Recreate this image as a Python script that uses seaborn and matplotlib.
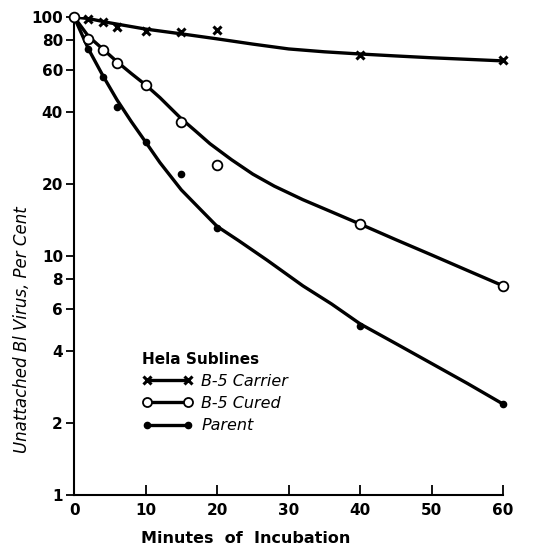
import numpy as np
import matplotlib
matplotlib.use("Agg")
import matplotlib.pyplot as plt
from matplotlib.lines import Line2D
from matplotlib.ticker import FixedLocator, FixedFormatter, NullLocator
import seaborn as sns

# measured points (minutes, % unattached)
carrier_t = [2, 4, 6, 10, 15, 20, 40, 60]
carrier_pct = [98, 95, 91, 87, 86.5, 88, 69.5, 66]
cured_t = [0, 2, 4, 6, 10, 15, 20, 40, 60]
cured_pct = [100, 81, 73, 64, 52, 36.5, 24, 13.6, 7.5]
parent_t = [2, 4, 6, 10, 15, 20, 40, 60]
parent_pct = [73.5, 56, 42, 30, 22, 13.1, 5.1, 2.4]

# fitted curves
carrier_ct = [0, 2, 5, 10, 15, 20, 25, 30, 35, 40, 45, 50, 55, 60]
carrier_curve = [100, 98.5, 94.5, 89, 85, 81, 77, 73.5, 71.5, 70, 68.7, 67.5, 66.5, 65.5]
cured_ct = [0, 2, 4, 6, 8, 10, 12, 15, 17, 19, 22, 25, 28, 32, 36, 40, 45, 50, 55, 60]
cured_curve = [100, 83, 73.5, 65, 58, 52, 46, 37.5, 33.3, 29.5, 25.3, 22, 19.6, 17.2, 15.3,
               13.6, 11.7, 10.1, 8.7, 7.5]
parent_ct = [0, 2, 4, 6, 8, 10, 12, 15, 18, 20, 23, 27, 32, 36, 40, 45, 50, 55, 60]
parent_curve = [100, 73.5, 57, 45, 36.5, 30, 24.6, 18.9, 15.3, 13.3, 11.6, 9.6, 7.5,
                6.3, 5.2, 4.3, 3.55, 2.93, 2.4]

y_ticks = [1, 2, 4, 6, 8, 10, 20, 40, 60, 80, 100]
y_labels = ["1", "2", "4", "6", "8", "10", "20", "40", "60", "80", "100"]
x_ticks = [0, 10, 20, 30, 40, 50, 60]

sns.set_theme(style="ticks")
plt.rcParams["font.family"] = ["DejaVu Sans"]
plt.rcParams.update({"text.color": "black", "axes.labelcolor": "black",
                     "xtick.color": "black", "ytick.color": "black"})

fig = plt.figure(figsize=(5.33, 5.46), dpi=100)
ax = fig.add_axes([0.139, 0.0934, 0.805, 0.8755])

lw = 2.4
for ct, curve in [(carrier_ct, carrier_curve), (cured_ct, cured_curve),
                  (parent_ct, parent_curve)]:
    sns.lineplot(x=ct, y=curve, color="black", linewidth=lw, ax=ax,
                 estimator=None, sort=False)

ax.plot(carrier_t, carrier_pct, linestyle="none", marker="x", color="black",
        markersize=6, markeredgewidth=2.2, clip_on=False, zorder=5)
ax.plot(cured_t, cured_pct, linestyle="none", marker="o", markerfacecolor="white",
        markeredgecolor="black", markersize=7, markeredgewidth=1.3, clip_on=False, zorder=5)
ax.plot(parent_t, parent_pct, linestyle="none", marker="o", color="black",
        markersize=4.5, clip_on=False, zorder=5)

ax.set_yscale("log")
ax.set_xlim(0, 60)
ax.set_ylim(1, 100)
ax.yaxis.set_major_locator(FixedLocator(y_ticks))
ax.yaxis.set_major_formatter(FixedFormatter(y_labels))
ax.yaxis.set_minor_locator(NullLocator())
ax.set_xticks(x_ticks)

ax.tick_params(axis="y", direction="out", length=6, width=1.3, labelsize=11, pad=2)
ax.tick_params(axis="x", direction="in", length=7, width=1.3, labelsize=11, pad=6)
for lab in ax.get_xticklabels() + ax.get_yticklabels():
    lab.set_fontweight("bold")

sns.despine(ax=ax)
for s in ["left", "bottom"]:
    ax.spines[s].set_linewidth(1.5)
    ax.spines[s].set_color("black")

ax.set_xlabel("Minutes  of  Incubation", fontsize=11.5, fontweight="bold")
ax.xaxis.set_label_coords(0.40, -0.075)
ax.set_ylabel("Unattached Bl Virus, Per Cent", fontsize=12, fontstyle="italic")
ax.yaxis.set_label_coords(-0.10, 0.345)

handles = [
    Line2D([], [], color="black", linewidth=lw, marker="x", markersize=6, markeredgewidth=2.2),
    Line2D([], [], color="black", linewidth=lw, marker="o", markerfacecolor="white",
           markersize=6.5, markeredgewidth=1.3),
    Line2D([], [], color="black", linewidth=lw, marker="o", markersize=4.5),
]
leg = ax.legend(handles, ["B-5 Carrier", "B-5 Cured", "Parent"], title="Hela Sublines",
                loc="upper left", bbox_to_anchor=(0.125, 0.33), frameon=False,
                numpoints=2, handlelength=3.2, labelspacing=0.45, handletextpad=0.5,
                prop={"style": "italic", "size": 11.5}, alignment="left")
leg.get_title().set_fontsize(11)
leg.get_title().set_fontweight("bold")

fig.savefig("out.png", dpi=100)
